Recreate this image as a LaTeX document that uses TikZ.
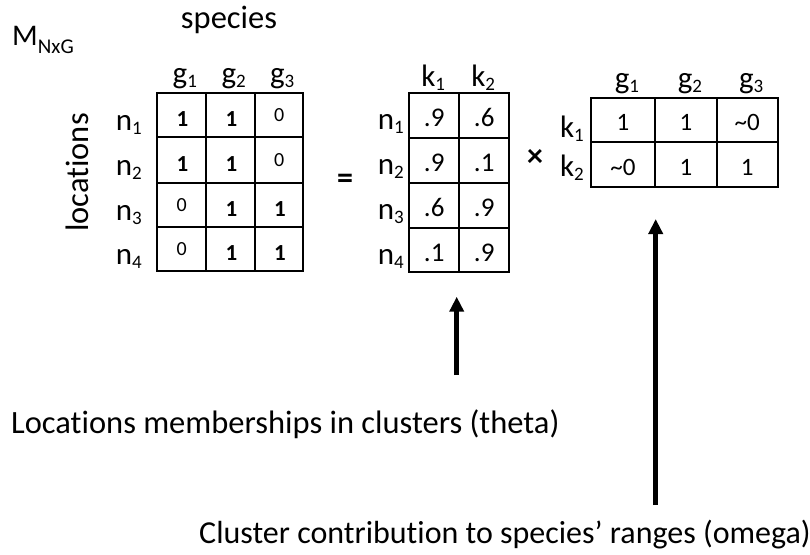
\documentclass[tikz,border=0pt]{standalone}
\usepackage{fontspec}
\setmainfont{Carlito}[Ligatures=NoCommon, Numbers=Lining]
\usetikzlibrary{arrows.meta}
\newcommand{\fsz}[1]{\fontsize{#1}{#1}\selectfont}
% label with a lowered index, e.g. n_1
\newcommand{\idx}[2]{{\fsz{31}#1}\raisebox{-4pt}{\fsz{19}#2}}
% cell entries
\newcommand{\one}{{\fsz{23}\bfseries 1}}
\newcommand{\nil}{{\fsz{20}0}}
\newcommand{\tv}[1]{{\fsz{27}#1}}
\newcommand{\ov}[1]{{\fsz{25}#1}}

\begin{document}
\begin{tikzpicture}[x=1pt,y=-1pt,
  gridline/.style={line width=1.8pt, line cap=rect},
  lab/.style={inner sep=0pt},
  colhead/.style={inner sep=0pt, anchor=base},
  rowhead/.style={inner sep=0pt, anchor=base east},
  cellval/.style={inner sep=0pt, anchor=base},
  pointer/.style={line width=4.5pt, -{Triangle[length=15pt,width=14pt]}}]
\useasboundingbox (0,0) rectangle (810,554);

% ---------- title and axis names ----------
\node[inner sep=0pt, anchor=base west] (title) at (12,45)
  {{\fsz{30}M}\raisebox{-8.3pt}{\fsz{21}NxG}};
\node[lab, anchor=base] (species) at (229,28.5) {\fsz{32.5}species};
\node[lab, anchor=base, rotate=90] (locations) at (88,172.5) {\fsz{32.5}locations};

% ---------- observed matrix M ----------
\draw[gridline] (157.3,92.7) rectangle (303.3,271);
\foreach \x in {206.3,255} \draw[gridline] (\x,92.7) -- (\x,271);
\foreach \y in {137.3,182.7,227.3} \draw[gridline] (157.3,\y) -- (303.3,\y);

\foreach \c/\x in {1/181.8,2/230.7,3/279.2}
  \node[colhead] (mg\c) at (\x+3,83) {\idx{g}{\c}};
\foreach \r/\y in {1/115,2/160,3/205,4/249.2}
  \node[rowhead] (mn\r) at (142,\y+15) {\idx{n}{\r}};

\node[cellval] (m11) at (182.5,126) {\one};
\node[cellval] (m12) at (231.4,126) {\one};
\node[cellval] (m13) at (279.2,121.7) {\nil};
\node[cellval] (m21) at (182.5,171) {\one};
\node[cellval] (m22) at (231.4,171) {\one};
\node[cellval] (m23) at (279.2,166.7) {\nil};
\node[cellval] (m31) at (181.8,211.7) {\nil};
\node[cellval] (m32) at (231.4,216) {\one};
\node[cellval] (m33) at (279.9,216) {\one};
\node[cellval] (m41) at (181.8,255.9) {\nil};
\node[cellval] (m42) at (231.4,260.2) {\one};
\node[cellval] (m43) at (279.9,260.2) {\one};

\node[inner sep=0pt] (eq) at (345,181.7) {\fsz{32}\bfseries =};

% ---------- theta: locations x clusters ----------
\draw[gridline] (409,93.3) rectangle (509,272);
\draw[gridline] (459.3,93.3) -- (459.3,272);
\foreach \y in {138.3,183.3,228.3} \draw[gridline] (409,\y) -- (509,\y);

\foreach \c/\x in {1/434.2,2/484.2}
  \node[colhead] (tk\c) at (\x-1,86) {\idx{k}{\c}};
\foreach \r/\y in {1/115.8,2/160.8,3/205.8,4/250.2}
  \node[rowhead] (tn\r) at (404,\y+14) {\idx{n}{\r}};

\foreach \r/\y/\a/\b in {1/115.8/.9/.6, 2/160.8/.9/.1, 3/205.8/.6/.9, 4/250.2/.1/.9}{
  \node[cellval] (t\r1) at (434.2,\y+11) {\tv{\a}};
  \node[cellval] (t\r2) at (484.2,\y+11) {\tv{\b}};
}

\node[inner sep=0pt] (times) at (535,158) {\fsz{32}\bfseries ×};

% ---------- omega: clusters x species ----------
\draw[gridline] (591,97.7) rectangle (777.7,186.7);
\foreach \x in {655,716.7} \draw[gridline] (\x,97.7) -- (\x,186.7);
\draw[gridline] (591,141.7) -- (777.7,141.7);

\foreach \c/\x in {1/623,2/685.9,3/747.2}
  \node[colhead] (og\c) at (\x+4,88) {\idx{g}{\c}};
\node[rowhead] (ok1) at (584,137.5) {\idx{k}{1}};
\node[rowhead] (ok2) at (584,176.5) {\idx{k}{2}};

\node[cellval] (o11) at (623,130.5) {\ov{1}};
\node[cellval] (o12) at (685.9,130.5) {\ov{1}};
\node[cellval] (o13) at (747.2,130.5) {\ov{\textasciitilde 0}};
\node[cellval] (o21) at (623,175) {\ov{\textasciitilde 0}};
\node[cellval] (o22) at (685.9,175) {\ov{1}};
\node[cellval] (o23) at (747.2,175) {\ov{1}};

% ---------- explanations with pointers ----------
\node[lab, anchor=base west] (thetanote) at (11,433.3)
  {\fsz{32.5}Locations memberships in clusters (theta)};
\node[lab, anchor=base west] (omeganote) at (199,543.3)
  {\fsz{32}Cluster contribution to species’ ranges (omega)};

\coordinate (thetatail) at (456.7,375);
\coordinate (thetahead) at (456.7,296.7);
\coordinate (omegatail) at (655.7,505);
\coordinate (omegahead) at (655.7,219);
\draw[pointer] (thetatail) -- (thetahead);
\draw[pointer] (omegatail) -- (omegahead);
\end{tikzpicture}
\end{document}
